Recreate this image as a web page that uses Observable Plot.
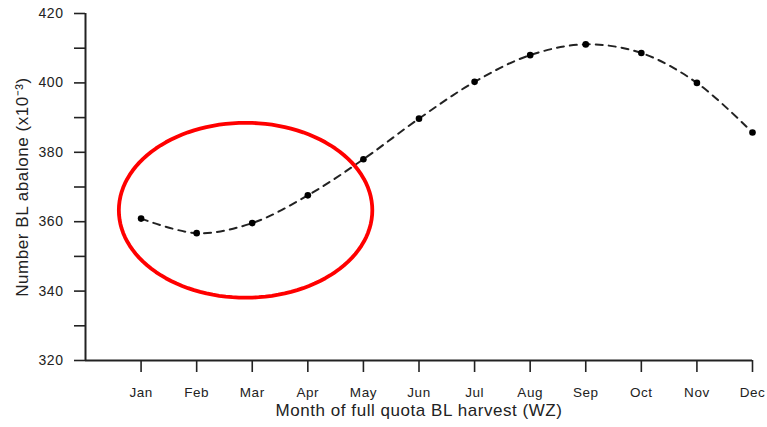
<!DOCTYPE html>
<html>
<head>
<meta charset="utf-8">
<script src="https://cdn.jsdelivr.net/npm/d3@7"></script>
<script src="https://cdn.jsdelivr.net/npm/@observablehq/plot@0.6"></script>
<style>
  html, body { margin: 0; padding: 0; background: #fff; }
  #chart svg text { letter-spacing: 0.55px; }
</style>
</head>
<body>
<div id="chart"></div>
<script>
// Data
const months = ["Jan", "Feb", "Mar", "Apr", "May", "Jun", "Jul", "Aug", "Sep", "Oct", "Nov", "Dec"];
const abalone = [360.9, 356.7, 359.6, 367.6, 378.0, 389.7, 400.3, 408.0, 411.1, 408.6, 400.0, 385.7];
const yMajorTicks = [320, 340, 360, 380, 400, 420];
const yMinorTicks = [330, 350, 370, 390, 410];
const xTitle = "Month of full quota BL harvest (WZ)";
const yTitle = "Number BL abalone (x10⁻³)";

// Highlight ellipse annotation (data coordinates)
const highlightCenterMonth = 2.88;
const highlightCenterValue = 363.3;
const highlightRadiusMonths = 2.28;
const highlightRadiusValue = 25.2;

const monthIndex = months.map((m, i) => i + 1);
const data = months.map((m, i) => ({month: monthIndex[i], value: abalone[i]}));

const ellipse = d3.range(0, 361, 3).map(a => {
  const t = a * Math.PI / 180;
  return {
    month: highlightCenterMonth + highlightRadiusMonths * Math.cos(t),
    value: highlightCenterValue + highlightRadiusValue * Math.sin(t)
  };
});

const plot = Plot.plot({
  width: 767,
  height: 427,
  marginLeft: 85,
  marginRight: 15,
  marginTop: 13,
  marginBottom: 67,
  x: {domain: [0, 12]},
  y: {domain: [320, 420]},
  style: {
    fontFamily: "'Liberation Sans', Arial, Helvetica, sans-serif",
    fontSize: "13px",
    color: "#222",
    background: "#fff"
  },
  marks: [
    Plot.axisY(yMajorTicks, {
      tickSize: 11, tickPadding: 11, strokeWidth: 1.6,
      label: null, fontSize: 14
    }),
    Plot.axisY(yMinorTicks, {tickSize: 11, strokeWidth: 1.6, tickFormat: () => "", label: null}),
    Plot.axisX(monthIndex, {
      tickSize: 12, tickPadding: 15, strokeWidth: 1.6,
      tickFormat: i => months[i - 1],
      label: null, fontSize: 13.5
    }),
    Plot.text([yTitle], {frameAnchor: "left", dx: -63, rotate: -90, textAnchor: "middle", fontSize: 17, fill: "#222"}),
    Plot.text([xTitle], {frameAnchor: "bottom", dy: 55, textAnchor: "middle", fontSize: 17, fill: "#222"}),
    Plot.ruleX([0], {stroke: "#222", strokeWidth: 2}),
    Plot.ruleY([320], {stroke: "#222", strokeWidth: 2}),
    Plot.line(data, {x: "month", y: "value", curve: "catmull-rom", stroke: "#222", strokeWidth: 2, strokeDasharray: "7,6"}),
    Plot.dot(data, {x: "month", y: "value", r: 3.3, fill: "#000", stroke: "none"}),
    Plot.line(ellipse, {x: "month", y: "value", curve: "linear-closed", stroke: "#f00", strokeWidth: 3.8})
  ]
});

// soft shadow around the red annotation ellipse
plot.querySelectorAll("path").forEach(p => {
  if (p.getAttribute("stroke") === "#f00") {
    p.style.filter = "drop-shadow(0 0 4px rgba(0,0,0,0.3))";
  }
});

document.getElementById("chart").appendChild(plot);
</script>
</body>
</html>
